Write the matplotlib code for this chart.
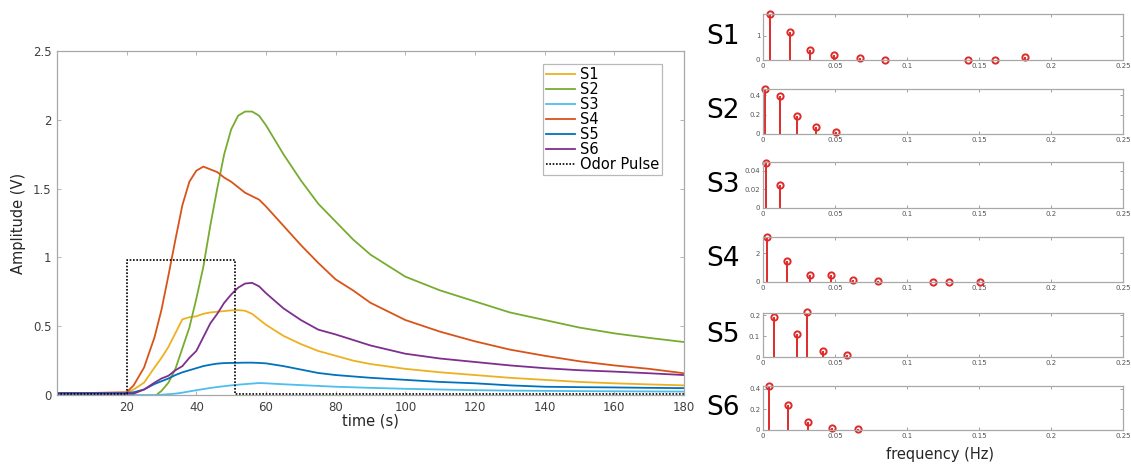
import matplotlib
matplotlib.use("Agg")
import matplotlib.pyplot as plt
import numpy as np

plt.rcParams['font.family'] = ['DejaVu Sans']

# ---------------- data ----------------
time_s = [0, 10, 20, 22, 25, 28, 30, 32, 34, 36, 38, 40, 42, 44, 46, 48, 50, 52, 54, 56, 58,
          60, 65, 70, 75, 80, 85, 90, 100, 110, 120, 130, 140, 150, 160, 170, 180]

s1_v = [0.015, 0.015, 0.015, 0.04, 0.09, 0.2, 0.27, 0.35, 0.45, 0.55, 0.565, 0.572, 0.59, 0.6,
        0.605, 0.61, 0.615, 0.617, 0.612, 0.59, 0.55, 0.51, 0.43, 0.37, 0.32, 0.285, 0.25, 0.225,
        0.19, 0.165, 0.145, 0.125, 0.11, 0.095, 0.085, 0.077, 0.07]
s2_v = [-0.05, -0.05, -0.05, -0.05, -0.04, -0.01, 0.03, 0.09, 0.19, 0.34, 0.49, 0.7, 0.93, 1.23,
        1.5, 1.75, 1.93, 2.03, 2.06, 2.06, 2.03, 1.96, 1.75, 1.56, 1.39, 1.26, 1.13, 1.02, 0.86,
        0.76, 0.68, 0.6, 0.545, 0.49, 0.448, 0.415, 0.385]
s3_v = [0.0, 0.0, 0.0, 0.0, 0.0, 0.0, 0.002, 0.006, 0.01, 0.017, 0.026, 0.035, 0.043, 0.051,
        0.058, 0.064, 0.07, 0.075, 0.079, 0.083, 0.087, 0.085, 0.078, 0.072, 0.066, 0.06, 0.056,
        0.052, 0.045, 0.04, 0.035, 0.032, 0.03, 0.028, 0.027, 0.026, 0.025]
s4_v = [0.015, 0.015, 0.02, 0.07, 0.2, 0.42, 0.62, 0.87, 1.13, 1.38, 1.55, 1.63, 1.66, 1.64,
        1.62, 1.58, 1.55, 1.51, 1.47, 1.445, 1.42, 1.37, 1.23, 1.09, 0.96, 0.84, 0.76, 0.67, 0.545,
        0.46, 0.39, 0.33, 0.285, 0.245, 0.215, 0.19, 0.158]
s5_v = [0.015, 0.015, 0.015, 0.02, 0.04, 0.08, 0.1, 0.12, 0.145, 0.165, 0.18, 0.195, 0.21, 0.22,
        0.228, 0.232, 0.233, 0.234, 0.235, 0.235, 0.233, 0.23, 0.21, 0.185, 0.16, 0.145, 0.135, 0.125,
        0.11, 0.095, 0.085, 0.07, 0.06, 0.057, 0.055, 0.052, 0.05]
s6_v = [0.01, 0.01, 0.01, 0.01, 0.04, 0.09, 0.12, 0.14, 0.18, 0.21, 0.27, 0.32, 0.42, 0.52, 0.59,
        0.67, 0.73, 0.78, 0.81, 0.815, 0.79, 0.74, 0.63, 0.545, 0.475, 0.44, 0.4, 0.36, 0.3, 0.265,
        0.24, 0.215, 0.195, 0.18, 0.17, 0.158, 0.145]

pulse_t = [0, 20, 20, 51, 51, 180]
pulse_v = [0.01, 0.01, 0.98, 0.98, 0.01, 0.01]

series_names = ["S1", "S2", "S3", "S4", "S5", "S6"]
series_colors = ["#EDB120", "#77AC30", "#4DBEEE", "#D95319", "#0072BD", "#7E2F8E"]

# spectra (frequency in Hz, magnitude)
f1 = [0.0051, 0.0185, 0.0326, 0.0493, 0.0671, 0.0847, 0.1426, 0.161, 0.182]
m1 = [1.88, 1.14, 0.41, 0.2, 0.07, 0.01, 0.02, 0.01, 0.11]
f2 = [0.0016, 0.0116, 0.0236, 0.037, 0.0505]
m2 = [0.462, 0.39, 0.186, 0.069, 0.017]
f3 = [0.0023, 0.012]
m3 = [0.0479, 0.025]
f4 = [0.003, 0.0169, 0.0324, 0.0475, 0.0627, 0.0796, 0.118, 0.129, 0.151]
m4 = [3.12, 1.49, 0.51, 0.47, 0.16, 0.06, 0.02, 0.02, 0.01]
f5 = [0.0074, 0.0234, 0.0308, 0.0414, 0.0586]
m5 = [0.189, 0.11, 0.216, 0.029, 0.011]
f6 = [0.0039, 0.0171, 0.0313, 0.0481, 0.0662]
m6 = [0.432, 0.248, 0.081, 0.023, 0.01]

spec_f = [f1, f2, f3, f4, f5, f6]
spec_m = [m1, m2, m3, m4, m5, m6]
spec_ylim = [1.89, 0.462, 0.0493, 3.12, 0.21, 0.429]
spec_yticks = [[0, 1], [0, 0.2, 0.4], [0, 0.02, 0.04], [0, 2], [0, 0.1, 0.2], [0, 0.2, 0.4]]
spec_xticks = [0, 0.05, 0.1, 0.15, 0.2, 0.25]
spec_xticklabels = ["0", "0.05", "0.1", "0.15", "0.2", "0.25"]

main_xticks = [20, 40, 60, 80, 100, 120, 140, 160, 180]
main_yticks = [0, 0.5, 1, 1.5, 2, 2.5]
main_yticklabels = ["0", "0.5", "1", "1.5", "2", "2.5"]

# ---------------- figure ----------------
W, H = 1131, 466
fig = plt.figure(figsize=(W / 100, H / 100), dpi=100)

spine_col = "#a8a8a8"
tick_col = "#404040"

ax = fig.add_axes([57 / W, 1 - 395 / H, 627 / W, 344 / H])
all_v = [s1_v, s2_v, s3_v, s4_v, s5_v, s6_v]
for name, col, vals in zip(series_names, series_colors, all_v):
    ax.plot(time_s, vals, color=col, lw=1.3, label=name, solid_joinstyle="round")
ax.plot(pulse_t, pulse_v, color="black", lw=1.2, ls=(0, (1, 1)), label="Odor Pulse")

ax.set_xlim(0, 180)
ax.set_ylim(0, 2.5)
ax.set_xticks(main_xticks)
ax.set_yticks(main_yticks)
ax.set_yticklabels(main_yticklabels)
ax.tick_params(direction="in", top=True, right=True, length=3, width=0.6,
               color=spine_col, labelcolor=tick_col, labelsize=8.5, pad=4)
for sp in ax.spines.values():
    sp.set_color(spine_col)
    sp.set_linewidth(0.9)
ax.set_xlabel("time (s)", fontsize=10.5, color="#262626", labelpad=0)
ax.set_ylabel("Amplitude (V)", fontsize=10.5, color="#262626", labelpad=5)

leg = ax.legend(loc="upper right", bbox_to_anchor=((662 - 57) / 627, (395 - 64) / 344),
                borderaxespad=0, fontsize=10.5, frameon=True, fancybox=False,
                handlelength=2.0, handletextpad=0.3, labelspacing=0.0,
                borderpad=0.2)
leg.get_frame().set_edgecolor(spine_col)
leg.get_frame().set_linewidth(0.9)

# ---------------- spectra ----------------
spec_boxes = [(14, 60), (89, 134), (162, 208), (237, 282), (313, 357), (386, 430)]
stem_col = "#e02a2a"
for i, (top, bot) in enumerate(spec_boxes):
    a = fig.add_axes([763 / W, 1 - bot / H, 360 / W, (bot - top) / H])
    ml, sl, bl = a.stem(spec_f[i], spec_m[i], linefmt="-", markerfmt="o", basefmt=" ")
    plt.setp(sl, color=stem_col, linewidth=1.4)
    plt.setp(ml, markerfacecolor="none", markeredgecolor=stem_col, markersize=4.5,
             markeredgewidth=1.4, clip_on=False)
    a.set_xlim(0, 0.25)
    a.set_ylim(0, spec_ylim[i])
    a.set_xticks(spec_xticks)
    a.set_xticklabels(spec_xticklabels)
    a.set_yticks(spec_yticks[i])
    a.set_yticklabels([("%g" % v) for v in spec_yticks[i]])
    a.tick_params(direction="in", top=True, right=True, length=2.5, width=0.6,
                  color="#909090", labelcolor="#555555", labelsize=5, pad=2)
    for sp in a.spines.values():
        sp.set_color(spine_col)
        sp.set_linewidth(0.9)
    fig.text(706 / W, 1 - ((top + bot) / 2) / H, series_names[i], fontsize=19,
             ha="left", va="center", color="black")

fig.text(940 / W, 1 - 455 / H, "frequency (Hz)", fontsize=10.5, ha="center", va="center",
         color="#262626")

fig.savefig("out.png", dpi=100)
